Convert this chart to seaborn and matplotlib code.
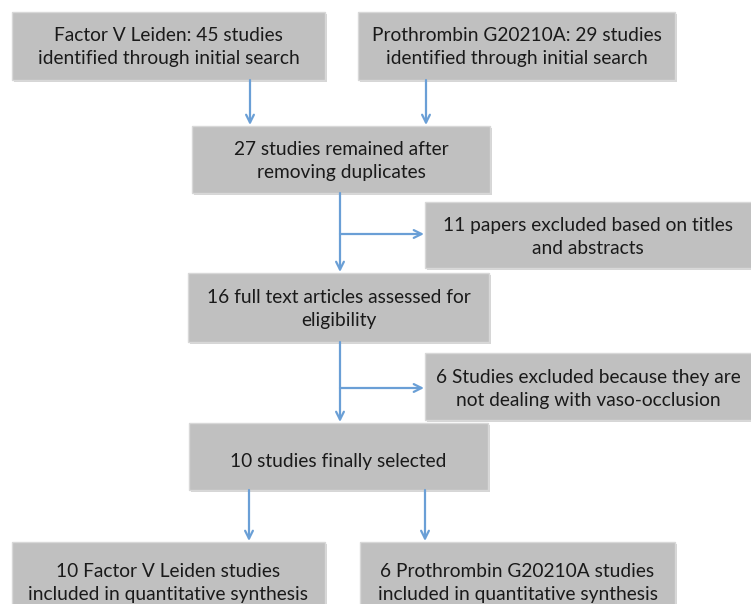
import matplotlib
matplotlib.use('Agg')
import matplotlib.pyplot as plt
import seaborn as sns
from matplotlib.patches import Rectangle

sns.set_theme(style='white')
plt.rcParams['font.family'] = ['Lato', 'DejaVu Sans']

# box texts
box_texts = [
    'Factor V Leiden: 45 studies\nidentified through initial search',
    'Prothrombin G20210A: 29 studies\nidentified through initial search',
    '27 studies remained after\nremoving duplicates',
    '11 papers excluded based on titles\nand abstracts',
    '16 full text articles assessed for\neligibility',
    '6 Studies excluded because they are\nnot dealing with vaso-occlusion',
    '10 studies finally selected',
    '10 Factor V Leiden studies\nincluded in quantitative synthesis',
    '6 Prothrombin G20210A studies\nincluded in quantitative synthesis',
]
# layout (pixels): x0, y0, x1, y1
box_pos = [
    (12, 12, 325, 80),
    (358, 12, 675, 80),
    (192, 126, 490, 193),
    (425, 202, 760, 268),
    (188, 273, 489, 342),
    (425, 353, 760, 420),
    (189, 423, 488, 490),
    (12, 542, 325, 620),
    (360, 542, 675, 620),
]
text_y = [47, 47, 161, 237, 309, 389, 462, 583, 583]

box_fill = '#c0c0c0'
arrow_color = '#6a9fd6'

fig = plt.figure(figsize=(7.51, 6.04), dpi=100)
ax = fig.add_axes([0, 0, 1, 1])
ax.set_xlim(0, 751)
ax.set_ylim(604, 0)
ax.axis('off')

for (x0, y0, x1, y1), txt, ty in zip(box_pos, box_texts, text_y):
    # soft shadow, then the box
    ax.add_patch(Rectangle((x0 + 2, y0 + 2), x1 - x0, y1 - y0,
                           facecolor='#d6d6d6', edgecolor='none', zorder=1))
    ax.add_patch(Rectangle((x0, y0), x1 - x0, y1 - y0,
                           facecolor=box_fill, edgecolor='#d8d8d8', lw=1, zorder=2))
    cx = (x0 + min(x1, 751)) / 2
    ax.text(cx, ty, txt, ha='center', va='center', fontsize=13.8,
            color='#1a1a1a', linespacing=1.42, zorder=3)


def arrow(x0, y0, x1, y1):
    ax.annotate('', xy=(x1, y1), xytext=(x0, y0),
                arrowprops=dict(arrowstyle='->', color=arrow_color, lw=1.6,
                                mutation_scale=14, shrinkA=0, shrinkB=0),
                zorder=4)


# top arrows
arrow(250, 80, 250, 125)
arrow(426, 80, 426, 125)
# main trunk with side branches
arrow(340, 193, 340, 272)
arrow(340, 234, 424, 234)
arrow(340, 342, 340, 422)
arrow(340, 388, 424, 388)
# bottom arrows
arrow(249, 490, 249, 541)
arrow(425, 490, 425, 541)

plt.savefig('out.png', dpi=100)
